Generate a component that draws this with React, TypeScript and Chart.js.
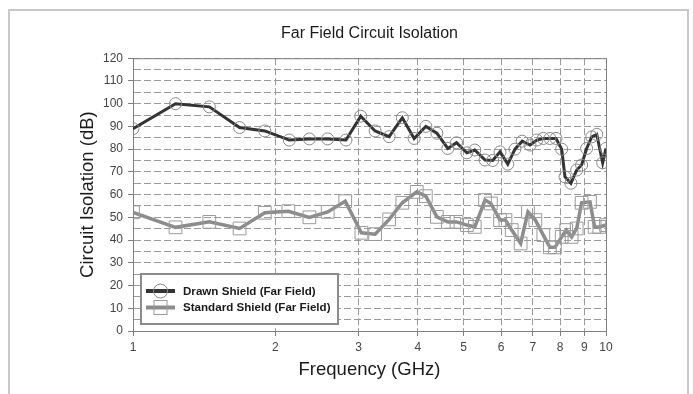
import React, { useEffect, useRef } from 'react';
import { Chart, registerables } from 'chart.js';

Chart.register(...registerables);

const TITLE = 'Far Field Circuit Isolation';
const X_TITLE = 'Frequency (GHz)';
const Y_TITLE = 'Circuit Isolation (dB)';
const X_TICKS = [1, 2, 3, 4, 5, 6, 7, 8, 9, 10];
const Y_MIN = 0;
const Y_MAX = 120;

const DRAWN_LABEL = 'Drawn Shield (Far Field)';
const drawnFreq = [1, 1.23, 1.45, 1.68, 1.9, 2.14, 2.36, 2.58, 2.82, 3.03, 3.25, 3.48, 3.71, 3.93, 4.16, 4.39, 4.63, 4.83, 5.08, 5.28, 5.55, 5.76, 5.97, 6.2, 6.42, 6.65, 6.91, 7.14, 7.37, 7.61, 7.84, 8.06, 8.19, 8.43, 8.67, 8.88, 9.1, 9.33, 9.56, 9.84, 10];
const drawnIso = [89, 100, 98.6, 89.5, 88, 84, 84.5, 84.5, 84, 94.5, 88, 85.5, 93.8, 84.7, 90, 87, 80.3, 82.8, 78.4, 79.6, 75.2, 75, 78.8, 73.4, 80, 83.5, 81.8, 84, 84.7, 84.7, 84.7, 80, 67.8, 65, 70.8, 73, 80.3, 85.4, 86.5, 74, 80.3];

const STD_LABEL = 'Standard Shield (Far Field)';
const stdFreq = [1, 1.23, 1.45, 1.68, 1.9, 2.13, 2.36, 2.58, 2.81, 3.04, 3.25, 3.48, 3.71, 3.98, 4.16, 4.39, 4.63, 4.83, 5.08, 5.28, 5.55, 5.71, 5.97, 6.13, 6.32, 6.6, 6.84, 7.09, 7.37, 7.61, 7.8, 8.06, 8.24, 8.46, 8.67, 8.88, 9.25, 9.46, 9.68, 10];
const stdIso = [52.2, 45.6, 48, 45.1, 52, 52.7, 50, 52.4, 57.1, 43.2, 42.6, 49.1, 56.4, 61.2, 59.3, 50.2, 48, 48, 46.6, 45.8, 57.6, 56.1, 48.8, 48.8, 44.4, 38.5, 52.4, 48.8, 42.2, 36.8, 36.8, 41.4, 44.4, 41.4, 45.1, 56.4, 56.8, 45.8, 45.8, 46.6];

const FONT = "'Liberation Sans', Arial, sans-serif";

const framePlugin = {
  id: 'frame',
  beforeDraw(chart: any) {
    const ctx = chart.ctx;
    ctx.save();
    ctx.fillStyle = '#ffffff';
    ctx.fillRect(0, 0, chart.width, chart.height);
    ctx.strokeStyle = '#c8c8c8';
    ctx.lineWidth = 2;
    ctx.strokeRect(9, 10, 679, 500);
    ctx.restore();
  },
  afterDatasetsDraw(chart: any) {
    const { ctx, chartArea } = chart;
    ctx.save();
    ctx.strokeStyle = '#808080';
    ctx.lineWidth = 1;
    ctx.beginPath();
    ctx.moveTo(chartArea.left, chartArea.top + 0.5);
    ctx.lineTo(chartArea.right + 0.5, chartArea.top + 0.5);
    ctx.lineTo(chartArea.right + 0.5, chartArea.bottom);
    ctx.stroke();
    ctx.restore();
  },
};

const legendPlugin = {
  id: 'insetLegend',
  afterDraw(chart: any) {
    const { ctx, chartArea } = chart;
    const x0 = chartArea.left + 8;
    const y0 = chartArea.bottom - 57;
    const w = 197;
    const h = 50;
    ctx.save();
    ctx.fillStyle = '#ffffff';
    ctx.fillRect(x0, y0, w, h);
    ctx.strokeStyle = '#8c8c8c';
    ctx.lineWidth = 2;
    ctx.strokeRect(x0, y0, w, h);
    chart.data.datasets.forEach((ds: any, i: number) => {
      const cy = y0 + 17 + i * 16.5;
      const lx = x0 + 5;
      ctx.strokeStyle = ds.borderColor;
      ctx.lineWidth = 4;
      ctx.beginPath();
      ctx.moveTo(lx, cy);
      ctx.lineTo(lx + 29, cy);
      ctx.stroke();
      const mx = lx + 14.5;
      ctx.strokeStyle = ds.pointBorderColor;
      ctx.lineWidth = 1;
      if (ds.pointStyle === 'rect') {
        ctx.strokeRect(mx - 6.5, cy - 7, 13, 14);
      } else {
        ctx.beginPath();
        ctx.arc(mx, cy, 7, 0, Math.PI * 2);
        ctx.stroke();
      }
      ctx.fillStyle = '#1a1a1a';
      ctx.font = `bold 11.6px ${FONT}`;
      ctx.textBaseline = 'middle';
      ctx.textAlign = 'left';
      ctx.fillText(ds.label, x0 + 42, cy + 0.5);
    });
    ctx.restore();
  },
};

export default function App() {
  const ref = useRef<HTMLCanvasElement | null>(null);

  useEffect(() => {
    if (!ref.current) return;
    const chart = new Chart(ref.current, {
      type: 'line',
      data: {
        datasets: [
          {
            label: DRAWN_LABEL,
            data: drawnFreq.map((f, i) => ({ x: f, y: drawnIso[i] })),
            borderColor: '#333333',
            borderWidth: 3,
            pointStyle: 'circle',
            pointRadius: 6,
            pointBorderColor: '#8a8a8a',
            pointBackgroundColor: 'rgba(0,0,0,0)',
            pointBorderWidth: 1,
            tension: 0,
            order: 1,
          },
          {
            label: STD_LABEL,
            data: stdFreq.map((f, i) => ({ x: f, y: stdIso[i] })),
            borderColor: '#8c8c8c',
            borderWidth: 3.5,
            pointStyle: 'rect',
            pointRadius: 9,
            pointBorderColor: '#9a9a9a',
            pointBackgroundColor: 'rgba(0,0,0,0)',
            pointBorderWidth: 1,
            tension: 0,
            order: 2,
          },
        ],
      },
      options: {
        animation: false,
        responsive: false,
        events: [],
        layout: { padding: { left: 0, right: 87, top: 0, bottom: 0 } },
        plugins: {
          legend: { display: false },
          tooltip: { enabled: false },
          title: {
            display: true,
            text: TITLE,
            fullSize: false,
            color: '#1a1a1a',
            font: { family: FONT, size: 16, weight: 'normal', lineHeight: 1.2 },
            padding: { top: 24, bottom: 15 },
          },
        },
        scales: {
          x: {
            type: 'logarithmic',
            min: 1,
            max: 10,
            afterBuildTicks: (scale: any) => {
              scale.ticks = X_TICKS.map((v) => ({ value: v }));
            },
            afterFit: (scale: any) => {
              scale.height = 63;
            },
            ticks: {
              autoSkip: false,
              maxRotation: 0,
              color: '#444444',
              font: { family: FONT, size: 12 },
              padding: 4,
              callback: (v: any) => String(v),
            },
            grid: {
              color: '#9a9a9a',
              lineWidth: 1,
              tickLength: 5,
              tickColor: '#808080',
            },
            border: { display: true, color: '#808080', width: 1, dash: [7, 3] },
            title: {
              display: true,
              text: X_TITLE,
              color: '#1a1a1a',
              font: { family: FONT, size: 18.5, lineHeight: 1.2 },
              padding: { top: 4, bottom: 13 },
            },
          },
          y: {
            type: 'linear',
            min: Y_MIN,
            max: Y_MAX,
            afterFit: (scale: any) => {
              scale.width = 133;
            },
            ticks: {
              stepSize: 5,
              autoSkip: false,
              color: '#444444',
              font: { family: FONT, size: 12 },
              padding: 5,
              callback: (v: any) => (Number(v) % 10 === 0 ? String(v) : ''),
            },
            grid: {
              color: '#9a9a9a',
              lineWidth: 1,
              tickLength: 5,
              tickColor: (c: any) => (c.tick && c.tick.value % 10 === 0 ? '#808080' : 'rgba(0,0,0,0)'),
            },
            border: { display: true, color: '#808080', width: 1, dash: [7, 3] },
            title: {
              display: true,
              text: Y_TITLE,
              color: '#1a1a1a',
              font: { family: FONT, size: 18.5, lineHeight: 1.2 },
              padding: { top: 77, bottom: 0 },
            },
          },
        },
      },
      plugins: [framePlugin, legendPlugin],
    } as any);
    return () => chart.destroy();
  }, []);

  return (
    <div style={{ position: 'fixed', left: 0, top: 0, width: 693, height: 394 }}>
      <canvas ref={ref} width={693} height={394} />
    </div>
  );
}
